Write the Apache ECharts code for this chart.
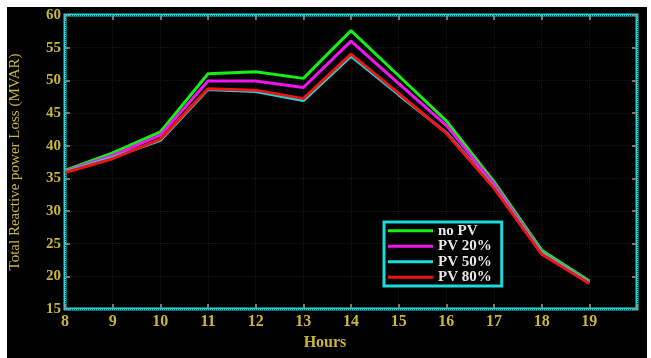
<!DOCTYPE html>
<html>
<head>
<meta charset="utf-8">
<title>Total Reactive power Loss</title>
<script src="https://cdn.jsdelivr.net/npm/echarts@6/dist/echarts.min.js"></script>
<style>
  html, body { margin: 0; padding: 0; background: #ffffff; }
  #bg { position: absolute; left: 7px; top: 7px; width: 640px; height: 351px; background: #000000; }
  #chart { position: absolute; left: 0; top: 0; width: 651px; height: 358px; }
</style>
</head>
<body>
<div id="bg"></div>
<div id="chart"></div>
<script>
// Hours of the day
const hours = [8, 9, 10, 11, 12, 13, 14, 15, 16, 17, 18, 19];
// Total reactive power loss (MVAR) for each PV penetration case
const noPV  = [36.2, 38.9, 42.1, 51.0, 51.3, 50.3, 57.6, 50.7, 43.8, 34.5, 24.0, 19.3];
const pv20  = [36.1, 38.5, 41.6, 49.9, 49.9, 48.9, 56.0, 49.5, 43.1, 34.1, 23.7, 19.1];
const pv50  = [36.0, 38.2, 40.8, 48.6, 48.3, 46.9, 53.7, 47.8, 42.0, 33.6, 23.6, 19.0];
const pv80  = [35.9, 38.0, 41.0, 48.7, 48.5, 47.2, 54.0, 48.0, 41.9, 33.5, 23.4, 18.9];
const yTicks = [15, 20, 25, 30, 35, 40, 45, 50, 55, 60];

const labelColor = '#c9b53a';
const frameColor = '#1fd9d9';
const serif = 'Liberation Serif';

function pairs(values) {
  return hours.map((h, i) => [h, values[i]]);
}

const chart = echarts.init(document.getElementById('chart'), null, { renderer: 'canvas' });

const tickStyle = { show: true, inside: true, length: 5, lineStyle: { color: '#9a9a9a', width: 1.5 } };
const gridLine = { show: true, lineStyle: { color: '#181818', type: 'dotted', width: 1 } };

chart.setOption({
  backgroundColor: 'transparent',
  animation: false,
  grid: {
    left: 65, right: 14, top: 15, bottom: 49,
    show: true, borderColor: frameColor, borderWidth: 3, backgroundColor: '#000000'
  },
  legend: {
    orient: 'vertical',
    left: 384, top: 222,
    backgroundColor: '#000000',
    borderColor: frameColor, borderWidth: 3,
    padding: [1, 10, 1, 4],
    icon: 'rect',
    itemWidth: 45, itemHeight: 3, itemGap: 0,
    textStyle: { color: '#e6e6e6', fontFamily: serif, fontWeight: 'bold', fontSize: 15, lineHeight: 15.5 },
    data: ['no PV', 'PV 20%', 'PV 50%', 'PV 80%']
  },
  xAxis: [{
    type: 'value', min: 8, max: 20, interval: 1,
    name: 'Hours', nameLocation: 'middle', nameGap: 26,
    nameTextStyle: { color: labelColor, fontFamily: serif, fontWeight: 'bold', fontSize: 16, padding: [0, 52, 0, 0] },
    axisLine: { show: false },
    axisTick: tickStyle,
    splitLine: gridLine,
    axisLabel: {
      color: labelColor, fontFamily: serif, fontWeight: 'bold', fontSize: 16, margin: 5,
      formatter: v => (v <= 19 ? String(v) : '')
    }
  }, {
    type: 'value', min: 8, max: 20, interval: 1, position: 'top',
    axisLine: { show: false }, axisTick: tickStyle, axisLabel: { show: false }, splitLine: { show: false }
  }],
  yAxis: [{
    type: 'value', min: yTicks[0], max: yTicks[yTicks.length - 1], interval: 5,
    name: 'Total Reactive power Loss (MVAR)', nameLocation: 'middle', nameGap: 42,
    nameTextStyle: { color: labelColor, fontFamily: serif, fontSize: 15 },
    axisLine: { show: false },
    axisTick: tickStyle,
    splitLine: gridLine,
    axisLabel: { color: labelColor, fontFamily: serif, fontWeight: 'bold', fontSize: 15, margin: 4 }
  }, {
    type: 'value', min: yTicks[0], max: yTicks[yTicks.length - 1], interval: 5, position: 'right',
    axisLine: { show: false }, axisTick: tickStyle, axisLabel: { show: false }, splitLine: { show: false }
  }],
  series: [
    { name: 'no PV',  type: 'line', data: pairs(noPV), symbol: 'none', lineStyle: { color: '#14f014', width: 3 }, itemStyle: { color: '#14f014' } },
    { name: 'PV 20%', type: 'line', data: pairs(pv20), symbol: 'none', lineStyle: { color: '#f014f0', width: 3 }, itemStyle: { color: '#f014f0' } },
    { name: 'PV 50%', type: 'line', data: pairs(pv50), symbol: 'none', lineStyle: { color: '#14e0e0', width: 3 }, itemStyle: { color: '#14e0e0' } },
    { name: 'PV 80%', type: 'line', data: pairs(pv80), symbol: 'none', lineStyle: { color: '#f01414', width: 3 }, itemStyle: { color: '#f01414' } }
  ]
});
</script>
</body>
</html>
